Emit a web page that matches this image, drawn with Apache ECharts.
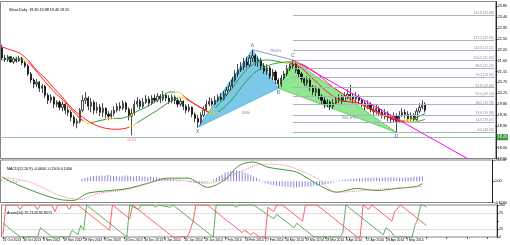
<!DOCTYPE html>
<html><head><meta charset="utf-8">
<script src="https://cdn.jsdelivr.net/npm/echarts@6/dist/echarts.min.js"></script>
<style>html,body{margin:0;padding:0;background:#fff}#c{width:510px;height:245px}</style>
</head><body><div id="c"></div>
<script>
// ---------- DATA ----------
const dateLabels = ['21 Oct 2013','30 Oct 2013','8 Nov 2013','19 Nov 2013','28 Nov 2013','9 Dec 2013','18 Dec 2013','30 Dec 2013','9 Jan 2014','20 Jan 2014','29 Jan 2014','7 Feb 2014','18 Feb 2014','27 Feb 2014','10 Mar 2014','19 Mar 2014','28 Mar 2014','8 Apr 2014','17 Apr 2014','28 Apr 2014','7 May 2014'];
// [open, close, low, high]
const ohlc = [
[22.13,21.71,21.63,22.26],[21.71,21.63,21.55,21.84],[21.63,21.76,21.55,21.84],[21.76,21.55,21.51,21.80],[21.55,21.67,21.46,21.76],
[21.67,21.59,21.51,21.76],[21.59,21.71,21.55,21.80],[21.71,21.51,21.42,21.76],[21.51,21.38,21.30,21.59],[21.38,21.05,20.96,21.46],
[21.05,20.80,20.67,21.13],[20.80,20.63,20.46,20.88],[20.63,20.71,20.51,20.84],[20.71,20.46,20.30,20.76],[20.46,20.55,20.26,20.63],
[20.55,20.17,20.05,20.59],[20.17,19.96,19.80,20.26],[19.96,20.09,19.84,20.21],[20.09,19.80,19.63,20.13],[19.80,19.88,19.67,19.96],
[19.88,19.67,19.55,19.96],[19.67,19.80,19.51,19.92],[19.80,19.55,19.38,19.84],[19.55,19.46,19.30,19.71],[19.46,19.26,19.09,19.55],
[19.26,19.01,18.88,19.34],[19.01,19.09,18.80,19.21],[19.09,19.55,19.01,19.63],[19.55,19.96,19.46,20.17],[19.96,20.05,19.80,20.30],
[20.05,19.71,19.55,20.13],[19.71,19.88,19.46,20.05],[19.88,19.55,19.38,19.96],[19.55,19.67,19.42,19.88],[19.67,19.46,19.30,19.80],
[19.46,19.63,19.26,19.84],[19.63,19.38,19.21,19.67],[19.38,19.30,19.13,19.51],[19.30,19.42,19.17,19.55],[19.42,19.55,19.30,19.71],
[19.55,19.71,19.46,19.84],[19.71,19.63,19.51,19.88],[19.63,19.84,19.55,19.96],[19.84,19.59,19.46,19.92],[19.59,19.30,19.13,19.67],
[19.30,19.42,18.51,19.63],[19.42,19.80,19.34,19.96],[19.80,19.92,19.67,20.09],[19.92,19.71,19.59,20.01],[19.71,19.88,19.63,20.05],
[19.88,20.01,19.80,20.17],[20.01,19.84,19.71,20.13],[19.84,20.05,19.76,20.17],[20.05,19.96,19.84,20.21],[19.96,20.13,19.88,20.26],
[20.13,20.01,19.84,20.21],[20.01,20.17,19.92,20.34],[20.17,20.05,19.92,20.26],[20.05,19.92,19.80,20.17],[19.92,20.09,19.84,20.21],
[20.09,19.96,19.80,20.17],[19.96,19.80,19.67,20.05],[19.80,19.92,19.71,20.05],[19.92,19.71,19.55,19.96],[19.71,19.55,19.42,19.80],
[19.55,19.67,19.46,19.80],[19.67,19.38,19.26,19.71],[19.38,19.21,19.05,19.46],[19.21,19.05,18.84,19.34],[19.05,19.34,18.96,19.46],
[19.34,19.55,19.26,19.71],[19.55,19.80,19.46,19.96],[19.80,19.92,19.71,20.09],[19.92,19.80,19.71,20.05],[19.80,19.96,19.76,20.13],
[19.96,20.09,19.88,20.21],[20.09,20.01,19.92,20.26],[20.01,20.21,19.96,20.34],[20.21,20.38,20.13,20.51],[20.38,20.55,20.30,20.71],
[20.55,20.80,20.46,20.92],[20.80,21.05,20.71,21.21],[21.05,21.21,20.92,21.46],[21.21,21.34,21.13,21.55],[21.34,21.55,21.21,21.71],
[21.55,21.42,21.30,21.76],[21.42,21.71,21.34,21.84],[21.71,21.80,21.55,22.05],[21.80,21.55,21.38,21.88],[21.55,21.63,21.34,21.76],
[21.63,21.38,21.21,21.71],[21.38,21.17,21.05,21.51],[21.17,21.30,21.01,21.46],[21.30,20.96,20.84,21.38],[20.96,21.13,20.80,21.26],
[21.13,20.80,20.63,21.21],[20.80,20.63,20.46,20.88],[20.63,20.88,20.51,21.01],[20.88,21.05,20.80,21.17],[21.05,21.26,20.96,21.42],
[21.26,21.38,21.17,21.55],[21.38,21.46,21.26,21.63],[21.46,21.21,21.09,21.55],[21.21,21.05,20.92,21.34],[21.05,20.84,20.71,21.13],
[20.84,20.67,20.55,20.92],[20.67,20.80,20.55,20.96],[20.80,20.51,20.34,20.88],[20.51,20.30,20.17,20.59],[20.30,20.42,20.13,20.55],
[20.42,20.13,20.01,20.51],[20.13,19.96,19.80,20.21],[19.96,19.80,19.63,20.09],[19.80,19.88,19.67,20.01],[19.88,19.71,19.55,19.96],
[19.71,19.84,19.59,20.01],[19.84,19.96,19.76,20.09],[19.96,20.05,19.84,20.21],[20.05,19.92,19.80,20.17],[19.92,20.13,19.88,20.30],
[20.13,20.21,20.01,20.42],[20.21,20.09,19.96,20.59],[20.09,20.01,19.84,20.26],[20.01,20.13,19.88,20.30],[20.13,19.96,19.80,20.21],
[19.96,19.84,19.67,20.05],[19.84,19.71,19.55,19.92],[19.71,19.80,19.59,19.96],[19.80,19.59,19.46,19.88],[19.59,19.51,19.34,19.71],
[19.51,19.63,19.38,19.76],[19.63,19.46,19.30,19.71],[19.46,19.34,19.21,19.59],[19.34,19.42,19.17,19.59],[19.42,19.26,19.09,19.51],
[19.26,19.17,19.01,19.38],[19.17,19.30,19.05,19.46],[19.30,19.09,18.63,19.42],[19.09,19.34,19.01,19.51],[19.34,19.46,19.26,19.63],
[19.46,19.38,19.21,19.59],[19.38,19.21,19.09,19.51],[19.21,19.30,19.09,19.46],[19.30,19.17,19.05,19.42],[19.17,19.51,19.09,19.63],
[19.51,19.67,19.42,19.84],[19.67,19.80,19.59,19.96],[19.80,19.55,19.46,19.88]
];
// moving averages [barIndex, value]
const maFast = [[0,21.63],[4,21.67],[7,21.67],[10,21.42],[13,21.01],[16,20.59],[19,20.21],[22,19.88],[25,19.46],[28,19.13],[30,19.01],[33,19.09],[36,19.17],[38,19.21],[41,19.21],[44,19.30],[47,19.51],[50,19.67],[53,19.88],[56,20.13],[58,20.30],[61,20.30],[64,20.05],[67,19.80],[70,19.59],[72,19.51],[74,19.63],[77,20.05],[80,20.46],[83,20.96],[86,21.34],[89,21.55],[92,21.63],[95,21.59],[98,21.51],[101,21.46],[104,21.30],[107,20.96],[110,20.63],[113,20.30],[116,20.05],[119,19.92],[122,19.88],[125,19.80],[128,19.63],[131,19.46],[134,19.30],[137,19.17],[139,19.13],[142,19.17],[145,19.30],[147,19.42]];
const maSlow = [[0,22.17],[3,22.05],[6,21.92],[9,21.63],[12,21.21],[15,20.88],[18,20.46],[21,20.09],[24,19.67],[28,19.26],[32,18.96],[36,18.80],[40,18.76],[43,18.80],[46,18.96],[50,19.26],[54,19.55],[58,19.88],[60,20.01],[62,20.09],[64,20.01],[67,19.80],[70,19.59],[73,19.42],[76,19.55],[80,20.01],[84,20.63],[88,21.13],[92,21.38],[96,21.51],[100,21.55],[103,21.51],[106,21.34],[110,21.01],[114,20.59],[118,20.26],[122,19.96],[126,19.71],[130,19.46],[134,19.26],[137,19.13],[140,19.09],[144,19.09],[147,19.17]];
const fastSegs = [[0,'g'],[7,'y'],[9,'r'],[28,'y'],[31,'g'],[36,'y'],[39,'g'],[44,'y'],[46,'g'],[60,'y'],[63,'r'],[71,'y'],[74,'g'],[97,'y'],[100,'r'],[138,'y'],[142,'g']];
const slowSegs = [[0,'r'],[44,'y'],[47,'g'],[61,'y'],[64,'r'],[72,'y'],[75,'g'],[101,'y'],[104,'r'],[140,'y'],[144,'g']];
// MACD
const macdMain = [[0,0.12],[6,-0.12],[13,-0.35],[20,-0.53],[25,-0.56],[30,-0.35],[38,-0.27],[44,-0.21],[51,-0.06],[58,0.09],[65,0.09],[72,-0.18],[76,-0.06],[79,0.12],[82,0.40],[85,0.53],[88,0.56],[93,0.41],[100,0.32],[103,0.27],[108,0.03],[113,-0.21],[117,-0.32],[124,-0.21],[131,-0.27],[138,-0.21],[145,-0.15],[147,-0.06]];
const macdSignal = [[0,0.12],[10,-0.03],[20,-0.41],[27,-0.53],[34,-0.35],[44,-0.24],[58,0.06],[72,-0.06],[83,0.27],[91,0.50],[100,0.44],[110,0.09],[117,-0.32],[131,-0.24],[147,-0.15]];
const macdHist = [
0.05,-0.03,0.04,-0.04,0.03,-0.05,0.02,
0,0,0,0,0,0,0,0,0,0,0,0,0,0,0,0,0,0,0,0,0,
0.08,0.1,0.12,0.14,0.15,0.16,0.15,0.17,0.16,0.18,0.17,0.15,0.16,0.14,0.15,0.17,0.16,0.15,0.14,0.16,0.15,0.13,0.14,0.12,0.13,0.11,0.12,0.1,0.09,0.08,0.07,
0.05,0.04,0.03,0.02,0.01,0,-0.02,-0.03,-0.04,-0.05,-0.06,-0.05,-0.04,-0.03,-0.01,
0.05,0.1,0.15,0.2,0.25,0.28,0.3,0.31,0.32,0.3,0.28,0.25,0.22,0.18,0.14,0.1,0.05,
-0.03,-0.06,-0.08,-0.1,-0.12,-0.13,-0.14,-0.15,-0.16,-0.17,-0.17,-0.18,-0.18,-0.17,-0.17,-0.16,-0.16,-0.15,-0.14,-0.13,-0.12,-0.1,-0.09,-0.07,-0.05,-0.03,-0.01,
0.02,0.04,0.05,0.06,0.07,0.08,0.08,0.09,0.09,0.1,0.1,0.1,0.11,0.11,0.1,0.1,0.11,0.11,0.12,0.12,0.11,0.1,0.1,0.11,0.12,0.12,0.13,0.13,0.14,0.14
];
// Aroon [barIndex, value]
const aroonUp = [[0,43],[6,0],[12,0],[13,29],[17,0],[23,0],[24,21],[26,7],[27,36],[28,21],[29,100],[43,0],[44,100],[47,86],[48,100],[52,100],[53,93],[54,100],[58,93],[59,100],[72,7],[73,0],[74,100],[80,100],[81,93],[82,100],[87,100],[94,57],[95,71],[101,29],[102,43],[107,7],[108,0],[117,0],[118,14],[119,100],[132,7],[133,29],[135,14],[136,0],[142,0],[143,36],[144,57],[145,100],[146,100],[147,92.86]];
const aroonDown = [[0,7],[1,100],[5,100],[6,86],[7,100],[11,100],[12,86],[13,100],[17,100],[18,79],[19,100],[22,100],[23,86],[24,100],[26,100],[37,21],[38,100],[44,57],[45,100],[59,0],[64,0],[65,21],[66,50],[67,100],[71,100],[83,14],[84,21],[86,7],[87,14],[89,0],[91,0],[92,93],[94,79],[95,100],[97,100],[104,50],[105,100],[109,100],[123,0],[124,0],[125,100],[127,86],[128,100],[135,50],[136,79],[138,100],[147,35.71]];
// Harmonic pattern points
const patternNames = ['X','A','B','C','D'];
const patternIdx = [68,87,96,101,137];
const patternPrice = [18.84,22.05,20.46,21.63,18.63];
const ratioNames = ['50%','78.6%','261.8%'];
// Fibonacci levels
const fibLevels = [0,14.6,23.6,38.2,50,61.8,76.4,88.6,100,113,127.2,161.8];
const fibPrices = [18.63,19.07,19.34,19.78,20.13,20.48,20.92,21.29,21.63,22.02,22.45,23.48];
const fibStartIdx = 101;
const trendLine = [[101,21.63],[162,17.52]];
const supportLevel = 18.43;
const lowMark = [45,18.51,'18.84'];
const nCats = 172;

// ---------- CHART ----------
const cats = Array.from({length:nCats},(_,i)=>String(i));
const FONT = 'Liberation Sans';
const fs = 3.7;
const COL = {g:'#2f9a2f', y:'#e6d200', r:'#ff1a1a'};
function pieces(segs){
  return segs.map((s,k)=>{
    const p = {gte:s[0], color:COL[s[1]]};
    if(k<segs.length-1) p.lt = segs[k+1][0];
    return p;
  });
}
const P = patternNames.map((n,k)=>({n, i:patternIdx[k], p:patternPrice[k]}));
const pt = n => P.find(q=>q.n===n);
const X=pt('X'),A=pt('A'),B=pt('B'),C=pt('C'),D=pt('D');
const lastClose = ohlc[ohlc.length-1][1];

function xAx(gi, labels){
  return {type:'category', gridIndex:gi, data:cats, boundaryGap:true,
    axisLine:{show:false},
    axisTick: labels ? {show:true, interval:6, length:2, alignWithLabel:true, lineStyle:{color:'#000',width:0.6}} : {show:false},
    axisLabel: labels ? {show:true, interval:6, align:'left', fontSize:3.3, margin:1.5, color:'#000', fontFamily:FONT,
       formatter:(v,idx)=> (idx%7===0 && dateLabels[idx/7]) ? dateLabels[idx/7] : ''} : {show:false},
    splitLine:{show:false}};
}
const yLabel = {fontSize:fs, margin:2, color:'#000', fontFamily:FONT};
const option = {
  animation:false,
  backgroundColor:'#fff',
  title:[
    {text:'Silver,Daily  19.80 19.88 19.46 19.55', left:4, top:3, textStyle:{fontSize:fs, fontWeight:'normal', color:'#000', fontFamily:FONT}},
    {text:'MACD(12,26,9) -0.0600 -0.1500 0.1400', left:2, top:161.5, textStyle:{fontSize:fs, fontWeight:'normal', color:'#000', fontFamily:FONT}},
    {text:'Aroon(14) 35.7143 92.8571', left:2, top:206, textStyle:{fontSize:fs, fontWeight:'normal', color:'#000', fontFamily:FONT}}
  ],
  grid:[
    {left:0.5, top:1.5, width:496.5, height:157, show:true, borderColor:'#666', borderWidth:0.8, backgroundColor:'#fff'},
    {left:0.5, top:160, width:496.5, height:42.5, show:true, borderColor:'#666', borderWidth:0.8},
    {left:0.5, top:205, width:496.5, height:32, show:true, borderColor:'#666', borderWidth:0.8}
  ],
  xAxis:[xAx(0,false), xAx(1,false), xAx(2,true)],
  yAxis:[
    {type:'value', gridIndex:0, position:'right', min:17.55, max:24.05, interval:0.45,
      axisLine:{show:true, lineStyle:{color:'#000', width:0.8}}, axisTick:{show:true, length:2, lineStyle:{color:'#000',width:0.6}},
      axisLabel:Object.assign({formatter:v=>v.toFixed(2), showMaxLabel:false}, yLabel), splitLine:{show:false}},
    {type:'value', gridIndex:1, position:'right', min:-0.62, max:0.62, interval:0.62,
      axisLine:{show:true, lineStyle:{color:'#000', width:0.8}}, axisTick:{show:true, length:2, lineStyle:{color:'#000',width:0.6}},
      axisLabel:Object.assign({formatter:v=> v===0 ? '0.00' : v.toFixed(4)}, yLabel), splitLine:{show:false}},
    {type:'value', gridIndex:2, position:'right', min:0, max:100, interval:25,
      axisLine:{show:true, lineStyle:{color:'#000', width:0.8}}, axisTick:{show:true, length:2, lineStyle:{color:'#000',width:0.6}},
      axisLabel:Object.assign({formatter:v=> v===50 ? '' : String(v)}, yLabel), splitLine:{show:false}}
  ],
  visualMap:[
    {type:'piecewise', show:false, seriesIndex:2, dimension:0, pieces:pieces(fastSegs)},
    {type:'piecewise', show:false, seriesIndex:3, dimension:0, pieces:pieces(slowSegs)}
  ],
  series:[
    { // 0 pattern triangles
      type:'custom', xAxisIndex:0, yAxisIndex:0, z:1, silent:true, clip:true,
      encode:{x:[0,2,4], y:[1,3,5]},
      data:[[X.i,X.p,A.i,A.p,B.i,B.p,0],[B.i,B.p,C.i,C.p,D.i,D.p,1]],
      renderItem:(params, api)=>{
        const pts=[0,1,2].map(k=>api.coord([api.value(2*k), api.value(2*k+1)]));
        const g = api.value(6)===1;
        return {type:'polygon', shape:{points:pts}, style:{fill: g?'#8fe88f':'#7cc8ea', stroke: g?'#5cc45c':'#4aa8d8', lineWidth:0.8}};
      }
    },
    { // 1 candles
      type:'candlestick', xAxisIndex:0, yAxisIndex:0, z:3, data:ohlc, barWidth:1.7,
      itemStyle:{color:'#fff', color0:'#000', borderColor:'#000', borderColor0:'#000', borderWidth:0.7},
      markLine:{silent:true, symbol:'none', animation:false,
        data:[
          {yAxis:supportLevel, lineStyle:{color:'#9cc89c', width:1, type:'solid'},
            label:{show:true, position:'end', distance:1, formatter:p=>p.value.toFixed(2), fontSize:fs, color:'#fff', backgroundColor:'#3c9a3c', padding:[1,1], fontFamily:FONT}},
          {yAxis:lastClose, lineStyle:{opacity:0},
            label:{show:true, position:'end', distance:1, formatter:p=>p.value.toFixed(2), fontSize:fs, color:'#fff', backgroundColor:'#000', padding:[1,1], fontFamily:FONT}}
        ]}
    },
    {type:'line', xAxisIndex:0, yAxisIndex:0, z:4, data:maFast, showSymbol:false, smooth:0.3, lineStyle:{width:1}},
    {type:'line', xAxisIndex:0, yAxisIndex:0, z:4, data:maSlow, showSymbol:false, smooth:0.3, lineStyle:{width:1}},
    {type:'line', xAxisIndex:0, yAxisIndex:0, z:5, data:trendLine, showSymbol:false, lineStyle:{color:'#ff00ff', width:1}},
    {type:'line', xAxisIndex:0, yAxisIndex:0, z:5, data:[[A.i,A.p],[C.i,C.p]], showSymbol:false, lineStyle:{color:'#7a7ad8', width:0.8}},
    { // fib lines
      type:'line', xAxisIndex:0, yAxisIndex:0, z:2, data:[],
      markLine:{silent:true, symbol:'none', animation:false,
        lineStyle:{color:'#a8b4c6', width:1, type:'solid'},
        label:{show:true, position:'insideEndTop', distance:0.5, fontSize:3.4, color:'#8a8a8a', fontFamily:FONT},
        data: fibLevels.map((lv,k)=>[
          {coord:[fibStartIdx, fibPrices[k]], label:{formatter: lv.toFixed(1)+' ('+fibPrices[k].toFixed(2)+')'}},
          {coord:[nCats-1, fibPrices[k]]}
        ])}
    },
    { // pattern letters
      type:'scatter', xAxisIndex:0, yAxisIndex:0, z:6, symbolSize:1, itemStyle:{color:'rgba(0,0,0,0)'},
      data: P.map(q=>({name:q.n, value:[q.i,q.p], label:{position:(q.n==='A'||q.n==='C')?'top':'bottom'}})),
      label:{show:true, formatter:'{b}', fontSize:5, color:'#3a3aa0', distance:1.5, fontFamily:FONT}
    },
    { // ratio labels
      type:'scatter', xAxisIndex:0, yAxisIndex:0, z:6, symbolSize:1, itemStyle:{color:'rgba(0,0,0,0)'},
      data:[
        {name:ratioNames[0], value:[(X.i+B.i)/2,(X.p+B.p)/2], label:{position:'bottom', offset:[8,2]}},
        {name:ratioNames[1], value:[(A.i+C.i)/2,(A.p+C.p)/2], label:{position:'top', offset:[3,0]}},
        {name:ratioNames[2], value:[(B.i+D.i)/2,(B.p+D.p)/2], label:{position:'bottom', offset:[10,4]}}
      ],
      label:{show:true, formatter:'{b}', fontSize:4, color:'#4a4ab0', distance:1, fontFamily:FONT}
    },
    { // low mark
      type:'scatter', xAxisIndex:0, yAxisIndex:0, z:6, symbolSize:1, itemStyle:{color:'rgba(0,0,0,0)'},
      data:[{name:lowMark[2], value:[lowMark[0], lowMark[1]]}],
      label:{show:true, position:'bottom', formatter:'{b}', fontSize:3.6, color:'#ff55cc', distance:2, fontFamily:FONT}
    },
    // MACD
    {type:'bar', xAxisIndex:1, yAxisIndex:1, data:macdHist, barWidth:0.9, itemStyle:{color:'#8686dc'}, z:2},
    {type:'line', xAxisIndex:1, yAxisIndex:1, data:macdMain, showSymbol:false, smooth:0.3, lineStyle:{color:'#3c9a3c', width:1}, z:3},
    {type:'line', xAxisIndex:1, yAxisIndex:1, data:macdSignal, showSymbol:false, smooth:0.3, lineStyle:{color:'#f08080', width:1, type:'dotted'}, z:3},
    // Aroon
    {type:'line', xAxisIndex:2, yAxisIndex:2, data:aroonUp, showSymbol:false, lineStyle:{color:'#4ea64e', width:0.9}, z:3,
      markLine:{silent:true, symbol:'none', animation:false, label:{show:false}, lineStyle:{color:'#b0b0b0', type:'dotted', width:0.8},
        data:[{yAxis:25},{yAxis:75}]}},
    {type:'line', xAxisIndex:2, yAxisIndex:2, data:aroonDown, showSymbol:false, lineStyle:{color:'#ff5050', width:0.9}, z:3}
  ]
};
const chart = echarts.init(document.getElementById('c'), null, {renderer:'canvas'});
chart.setOption(option);
</script>
</body></html>
